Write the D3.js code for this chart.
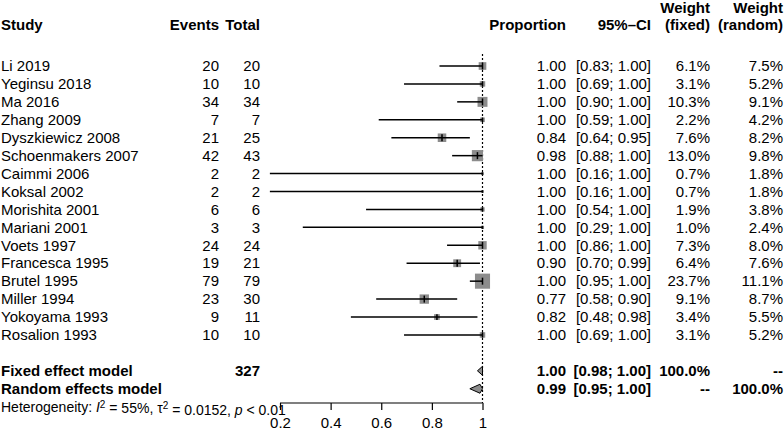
<!DOCTYPE html>
<html><head><meta charset="utf-8">
<script src="https://cdn.jsdelivr.net/npm/d3@7"></script>
<style>
html,body{margin:0;padding:0;background:#fff;}
svg text{font-family:"Liberation Sans",Arial,Helvetica,sans-serif;font-size:15px;fill:#000;}
</style></head><body>
<svg id="chart" width="784" height="430"></svg>
<script>
const studies = ["Li 2019","Yeginsu 2018","Ma 2016","Zhang 2009","Dyszkiewicz 2008","Schoenmakers 2007","Caimmi 2006","Koksal 2002","Morishita 2001","Mariani 2001","Voets 1997","Francesca 1995","Brutel 1995","Miller 1994","Yokoyama 1993","Rosalion 1993"];
const events = [20,10,34,7,21,42,2,2,6,3,24,19,79,23,9,10];
const totals = [20,10,34,7,25,43,2,2,6,3,24,21,79,30,11,10];
const proportion = [1.00,1.00,1.00,1.00,0.84,0.98,1.00,1.00,1.00,1.00,1.00,0.90,1.00,0.77,0.82,1.00];
const ciLower = [0.83,0.69,0.90,0.59,0.64,0.88,0.16,0.16,0.54,0.29,0.86,0.70,0.95,0.58,0.48,0.69];
const ciUpper = [1.00,1.00,1.00,1.00,0.95,1.00,1.00,1.00,1.00,1.00,1.00,0.99,1.00,0.90,0.98,1.00];
const weightFixed = [6.1,3.1,10.3,2.2,7.6,13.0,0.7,0.7,1.9,1.0,7.3,6.4,23.7,9.1,3.4,3.1];
const weightRandom = [7.5,5.2,9.1,4.2,8.2,9.8,1.8,1.8,3.8,2.4,8.0,7.6,11.1,8.7,5.5,5.2];
const fixedModel = {label:"Fixed effect model", total:327, est:1.00, lo:0.98, hi:1.00, wF:"100.0%", wR:"--"};
const randomModel = {label:"Random effects model", total:null, est:0.99, lo:0.95, hi:1.00, wF:"--", wR:"100.0%"};
const axisTicks = [0.2,0.4,0.6,0.8,1];

const svg = d3.select("#chart");
const fmt2 = d3.format(".2f");
const fmt1 = v => d3.format(".1f")(v) + "%";

const x = d3.scaleLinear().domain([0.2,1]).range([280,482.5]);
const rowY = i => 66 + i*17.93;

const col = {study:1, events:219, total:260, prop:566, ci:651, wF:710, wR:783};

// headers
const hdr = svg.append("g");
function htext(t, xx, y, anchor){
  hdr.append("text").attr("x",xx).attr("y",y).attr("text-anchor",anchor).style("font-weight","bold").text(t);
}
htext("Study", col.study, 30, "start");
htext("Events", col.events, 30, "end");
htext("Total", col.total, 30, "end");
htext("Proportion", col.prop, 30, "end");
htext("95%\u2013CI", col.ci, 30, "end");
htext("Weight", col.wF, 13, "end");
htext("(fixed)", col.wF, 30, "end");
htext("Weight", col.wR, 13, "end");
htext("(random)", col.wR, 30, "end");

// reference dotted line
svg.append("line").attr("x1",x(1)).attr("x2",x(1)).attr("y1",54).attr("y2",403)
  .attr("stroke","#000").attr("stroke-width",1.2).attr("stroke-dasharray","2,2");

// study rows
const rows = svg.append("g");
studies.forEach((s,i)=>{
  const y = rowY(i);
  const t = (v,xx,anchor)=>rows.append("text").attr("x",xx).attr("y",y).attr("dy","0.35em").attr("text-anchor",anchor).text(v);
  t(s, col.study, "start");
  t(events[i], col.events, "end");
  t(totals[i], col.total, "end");
  t(fmt2(proportion[i]), col.prop, "end");
  t("[" + fmt2(ciLower[i]) + "; " + fmt2(ciUpper[i]) + "]", col.ci, "end");
  t(fmt1(weightFixed[i]), col.wF, "end");
  t(fmt1(weightRandom[i]), col.wR, "end");
  const side = 3.1*Math.sqrt(weightFixed[i]);
  rows.append("rect").attr("x",x(proportion[i])-side/2).attr("y",y-side/2)
    .attr("width",side).attr("height",side).attr("fill","#8c8c8c");
  rows.append("line").attr("x1",x(ciLower[i])).attr("x2",x(ciUpper[i])).attr("y1",y).attr("y2",y)
    .attr("stroke","#000").attr("stroke-width",1.5);
  const th = Math.min(side, 7)/2;
  rows.append("line").attr("x1",x(proportion[i])).attr("x2",x(proportion[i])).attr("y1",y-th).attr("y2",y+th)
    .attr("stroke","#000").attr("stroke-width",1.5);
});

// summary rows
[[fixedModel,17],[randomModel,18]].forEach(([m,i])=>{
  const y = rowY(i);
  const t = (v,xx,anchor)=>rows.append("text").attr("x",xx).attr("y",y).attr("dy","0.35em").attr("text-anchor",anchor).style("font-weight","bold").text(v);
  t(m.label, col.study, "start");
  if (m.total !== null) t(m.total, col.total, "end");
  t(fmt2(m.est), col.prop, "end");
  t("[" + fmt2(m.lo) + "; " + fmt2(m.hi) + "]", col.ci, "end");
  t(m.wF, col.wF, "end");
  t(m.wR, col.wR, "end");
  const h = 4.5;
  const pts = [[x(m.lo),y],[x(m.est),y-h],[x(m.hi),y],[x(m.est),y+h]];
  rows.append("path").attr("d", d3.line()(pts) + "Z").attr("fill","#8c8c8c").attr("stroke","#000").attr("stroke-width",1);
});

// heterogeneity
const het = svg.append("text").attr("x",1).attr("y",rowY(19)).attr("dy","0.35em").style("font-size","14px");
het.append("tspan").text("Heterogeneity: ");
het.append("tspan").style("font-style","italic").text("I");
het.append("tspan").attr("dy","-0.4em").style("font-size","10px").text("2");
het.append("tspan").attr("dy","0.4em").text(" = 55%, \u03c4");
het.append("tspan").attr("dy","-0.4em").style("font-size","10px").text("2");
het.append("tspan").attr("dy","0.4em").text(" = 0.0152, ");
het.append("tspan").style("font-style","italic").text("p");
het.append("tspan").text(" < 0.01");

// axis
const axis = d3.axisBottom(x).tickValues(axisTicks).tickSize(7).tickPadding(7)
  .tickFormat(d => d === 1 ? "1" : d3.format(".1f")(d));
const ag = svg.append("g").attr("transform","translate(0,403)").call(axis);
ag.select(".domain").attr("stroke","#000").attr("stroke-width",1.2).attr("d", `M${x(0.2)},0H${x(1)}`);
ag.selectAll(".tick line").attr("stroke","#000").attr("stroke-width",1.2);
ag.selectAll(".tick text").style("font-size","15px").attr("fill","#000")
  .style("font-family","'Liberation Sans',Arial,Helvetica,sans-serif");
</script>
</body></html>
